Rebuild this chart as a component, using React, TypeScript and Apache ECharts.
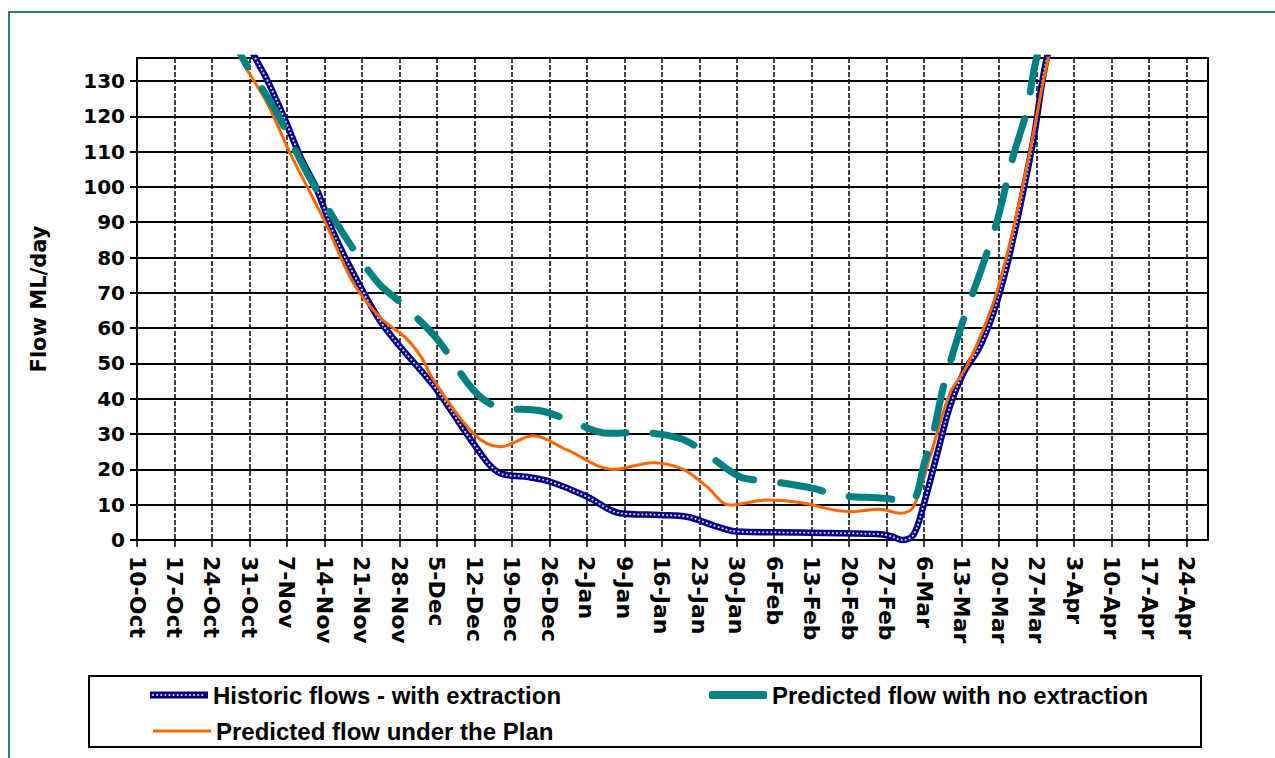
import React, { useEffect, useRef } from "react";
import * as echarts from "echarts";

// Weekly tick labels (every 7 days from 10-Oct)
const tickLabels = [
  "10-Oct", "17-Oct", "24-Oct", "31-Oct", "7-Nov", "14-Nov", "21-Nov", "28-Nov",
  "5-Dec", "12-Dec", "19-Dec", "26-Dec", "2-Jan", "9-Jan", "16-Jan", "23-Jan",
  "30-Jan", "6-Feb", "13-Feb", "20-Feb", "27-Feb", "6-Mar", "13-Mar", "20-Mar",
  "27-Mar", "3-Apr", "10-Apr", "17-Apr", "24-Apr",
];

// Historic flows - with extraction (day since 10-Oct, ML/day)
const historicDays = [18, 22.1, 24.3, 27.4, 30.5, 33.6, 37, 41.7, 45.4, 49, 56, 62.8, 67.8, 72.8, 77.2, 84, 90.2, 97.7, 102.7, 108.3, 112, 123.8, 138.1, 140.5, 143, 145, 146.8, 149.3, 151.8, 154.3, 157.4, 159.9, 162.4, 164.9, 167.4, 169.9, 173];
const historicFlow = [150, 136.5, 130.3, 119.9, 108.6, 99.2, 85.9, 71.8, 62, 55, 42.5, 27.4, 18.9, 17.9, 16.5, 12.3, 7.6, 7.1, 6.6, 3.8, 2.4, 2.1, 1.7, 1.2, 0, 1.5, 9.4, 23.6, 37.8, 47.2, 54.8, 64.2, 77.4, 94.4, 113.3, 136.5, 150];

// Predicted flow under the Plan
const planDays = [17, 19.3, 24.3, 28.6, 32.4, 35.5, 40.4, 45.4, 50, 53, 55.4, 62.8, 67.8, 74, 80.3, 89, 96.4, 102, 106.4, 110.7, 117.6, 123.8, 133.1, 138.7, 142.5, 145, 148.1, 151.8, 154.9, 158, 160.5, 163.6, 166.8, 170.2, 173];
const planFlow = [145, 136.5, 123.7, 109.5, 98.2, 88.8, 72.8, 63, 57.5, 52, 45.3, 30.2, 26.4, 29.5, 25.5, 20, 21.9, 20, 15.1, 9.9, 11.3, 10.6, 8.0, 8.7, 7.6, 9.4, 23.6, 41.5, 49.1, 59.5, 69.9, 87.8, 110.5, 136.5, 150];

// Predicted flow with no extraction
const noExtractionDays = [17, 19.9, 24.3, 26.8, 30.5, 33, 37.3, 40.1, 45.1, 49, 56, 62.8, 67.2, 75.3, 80.3, 88, 93.3, 101.4, 105.8, 112.6, 117.6, 126.3, 130.7, 139.4, 144.4, 147.2, 148.7, 150.6, 154.3, 157.4, 160.5, 163.6, 166.1, 168, 171];
const noExtractionFlow = [145, 136, 125.6, 119, 107.6, 100.6, 89.7, 83.1, 72.7, 67.5, 57, 42.5, 37.8, 36.6, 34.2, 30.2, 30.4, 28.8, 25, 17.9, 16.8, 14.6, 12.7, 11.8, 11.0, 22.7, 30.2, 43.4, 62.3, 75.5, 89.7, 108.6, 121.3, 136.5, 150];

const yTicks = [0, 10, 20, 30, 40, 50, 60, 70, 80, 90, 100, 110, 120, 130];

const NAME_HIST = "Historic flows - with extraction";
const NAME_NOEXT = "Predicted flow with no extraction";
const NAME_PLAN = "Predicted flow under the Plan";

const pairs = (xs: number[], ys: number[]) => xs.map((x, i) => [x, ys[i]]);

export default function App() {
  const ref = useRef<HTMLDivElement>(null);
  useEffect(() => {
    if (!ref.current) return;
    const chart = echarts.init(ref.current, undefined, { renderer: "svg" });
    const axisFont = { fontFamily: "DejaVu Sans", fontWeight: "bold" as const, color: "#000" };
    const legendText = { fontFamily: "Liberation Sans", fontWeight: "bold" as const, fontSize: 24, color: "#000" };
    const dotStyle = { color: "#dcdcff", width: 2, type: [0.1, 4], cap: "round" as const };
    chart.setOption({
      animation: false,
      backgroundColor: "#fff",
      grid: {
        left: 137, top: 58, right: 67, bottom: 218,
        show: true, borderColor: "#000", borderWidth: 2,
      },
      xAxis: {
        type: "value",
        min: 0, max: 200, interval: 7,
        axisLine: { show: true, lineStyle: { color: "#000", width: 2 } },
        axisTick: { show: true, length: 7, lineStyle: { color: "#000", width: 1.5 }, customValues: tickLabels.map((_, i) => i * 7) },
        axisLabel: {
          ...axisFont, fontSize: 22, rotate: -90, margin: 16,
          formatter: (v: number) => (v % 7 === 0 && v / 7 < tickLabels.length ? tickLabels[v / 7] : ""),
        },
        splitLine: { show: true, lineStyle: { color: "#000", width: 1.5, type: [5, 2] } },
      },
      yAxis: {
        type: "value",
        min: 0, max: 136.5, interval: 10,
        name: "Flow ML/day", nameLocation: "middle", nameRotate: 90, nameGap: 88,
        nameTextStyle: { ...axisFont, fontSize: 21 },
        axisLine: { show: true, lineStyle: { color: "#000", width: 2 } },
        axisTick: { show: true, length: 7, lineStyle: { color: "#000", width: 2 }, customValues: yTicks },
        axisLabel: {
          ...axisFont, fontSize: 20, margin: 12,
          formatter: (v: number) => (v % 10 === 0 ? String(v) : ""),
        },
        splitLine: { show: true, lineStyle: { color: "#000", width: 2 } },
      },
      legend: [
        {
          left: 150, top: 683, padding: 0, itemWidth: 58, itemHeight: 7, selectedMode: false,
          textStyle: legendText,
          data: [{ name: NAME_HIST, icon: "rect", itemStyle: { color: "#000080" } }],
        },
        {
          left: 709, top: 683, padding: 0, itemWidth: 58, itemHeight: 8, selectedMode: false,
          textStyle: legendText,
          data: [{ name: NAME_NOEXT, icon: "roundRect", itemStyle: { color: "#008080" } }],
        },
        {
          left: 153, top: 719, padding: 0, itemWidth: 58, itemHeight: 3, selectedMode: false,
          textStyle: legendText,
          data: [{ name: NAME_PLAN, icon: "rect", itemStyle: { color: "#ff6600" } }],
        },
      ],
      graphic: [
        {
          type: "rect", silent: true, z: -10,
          shape: { x: 9, y: 12, width: 1300, height: 800 },
          style: { fill: "none", stroke: "#2e7d7d", lineWidth: 2 },
        },
        {
          type: "rect", silent: true,
          shape: { x: 89, y: 676, width: 1112, height: 71 },
          style: { fill: "none", stroke: "#000", lineWidth: 2 },
        },
        {
          type: "line", silent: true, z: 100,
          shape: { x1: 153, y1: 695, x2: 206, y2: 695 },
          style: { stroke: "#dcdcff", lineWidth: 2, lineDash: [0.1, 4], lineCap: "round" },
        },
      ],
      series: [
        {
          name: NAME_HIST, type: "line", data: pairs(historicDays, historicFlow),
          smooth: 0.35, symbol: "none", clip: true, z: 3,
          lineStyle: { color: "#000080", width: 6.5 }, itemStyle: { color: "#000080" },
        },
        {
          name: "historic-dots", type: "line", data: pairs(historicDays, historicFlow),
          smooth: 0.35, symbol: "none", clip: true, z: 4, silent: true,
          lineStyle: dotStyle,
        },
        {
          name: NAME_PLAN, type: "line", data: pairs(planDays, planFlow),
          smooth: 0.35, symbol: "none", clip: true, z: 5,
          lineStyle: { color: "#ff6600", width: 3 }, itemStyle: { color: "#ff6600" },
        },
        {
          name: NAME_NOEXT, type: "line", data: pairs(noExtractionDays, noExtractionFlow),
          smooth: 0.35, symbol: "none", clip: true, z: 6,
          lineStyle: { color: "#008080", width: 7, type: [43, 27], cap: "round" }, itemStyle: { color: "#008080" },
        },
      ],
    });
    return () => chart.dispose();
  }, []);
  return <div ref={ref} style={{ position: "fixed", left: 0, top: 0, width: 1275, height: 758 }} />;
}
